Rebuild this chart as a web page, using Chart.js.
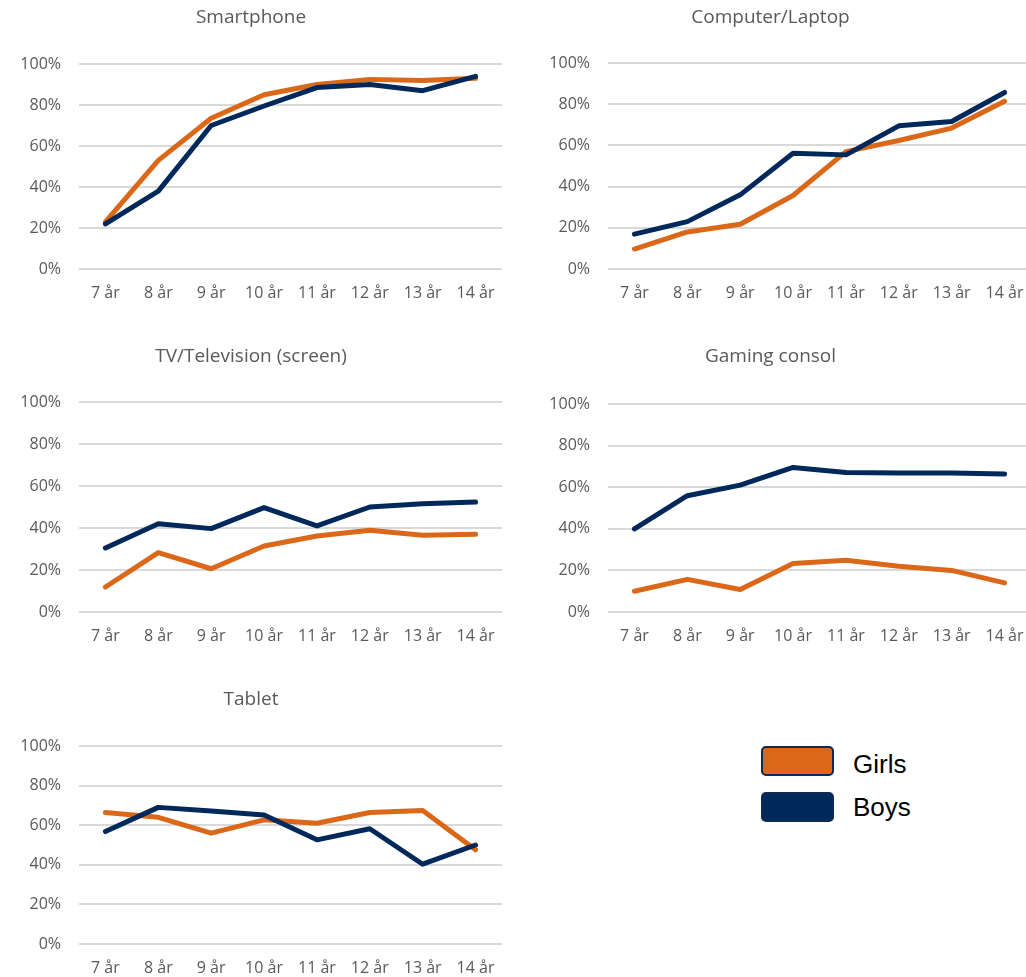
<!DOCTYPE html>
<html>
<head>
<meta charset="utf-8">
<script src="https://cdn.jsdelivr.net/npm/chart.js@4"></script>
<style>
  html, body { margin: 0; padding: 0; background: #fff; overflow: hidden; width: 1026px; height: 977px; }
  .panel { position: absolute; }
  .legend { position: absolute; left: 761px; top: 746px; font-family: "Liberation Sans", Arial, sans-serif; font-size: 26px; color: #000; }
  .legend-row { position: relative; height: 46px; }
  .legend-box { position: absolute; left: 0; width: 69px; height: 26px; border: 2px solid #0c2a52; border-radius: 5px; }
  .legend-label { position: absolute; left: 92px; top: 0; line-height: 30px; }
</style>
</head>
<body>

<div class="legend">
  <div class="legend-row"><div class="legend-box" style="background:#da6818"></div><div class="legend-label" style="top:3px">Girls</div></div>
  <div class="legend-row"><div class="legend-box" style="background:#00285a"></div><div class="legend-label">Boys</div></div>
</div>

<script>
const categories = ['7 år', '8 år', '9 år', '10 år', '11 år', '12 år', '13 år', '14 år'];
const yTickValues = [0, 20, 40, 60, 80, 100];

const smartphoneGirls = [23, 53, 73.5, 85, 90, 92.5, 92, 93];
const smartphoneBoys = [22, 38, 70, 79.5, 88.5, 90, 87, 94];

const computerGirls = [9.7, 18, 21.7, 35.7, 57, 62.4, 68.4, 81.4];
const computerBoys = [16.9, 23, 36, 56.2, 55.4, 69.5, 71.6, 85.7];

const tvGirls = [11.9, 28.3, 20.6, 31.4, 36.2, 38.9, 36.5, 37];
const tvBoys = [30.5, 42, 39.7, 49.7, 41, 50, 51.6, 52.4];

const gamingGirls = [10, 15.7, 10.8, 23.3, 24.9, 22, 20, 14];
const gamingBoys = [40, 55.9, 61, 69.5, 67.1, 66.8, 66.8, 66.3];

const tabletGirls = [66.4, 64, 56, 62.7, 61, 66.4, 67.4, 47.6];
const tabletBoys = [56.8, 69, 67.2, 65.2, 52.6, 58.2, 40.3, 50];

const GIRLS_COLOR = '#da6818';
const BOYS_COLOR = '#00285a';
const TEXT_COLOR = '#595959';
const FONT = '"Open Sans", "Noto Sans", sans-serif';

const panels = [
  { title: 'Smartphone', girls: smartphoneGirls, boys: smartphoneBoys,
    left: 0, top: 0, w: 510, h: 320, titleY: 18, area: { l: 79, t: 64, r: 502, b: 269 } },
  { title: 'Computer/Laptop', girls: computerGirls, boys: computerBoys,
    left: 510, top: 0, w: 530, h: 320, titleY: 18, area: { l: 98, t: 63, r: 521, b: 269 } },
  { title: 'TV/Television (screen)', girls: tvGirls, boys: tvBoys,
    left: 0, top: 340, w: 510, h: 320, titleY: 17, area: { l: 79, t: 62, r: 502, b: 272 } },
  { title: 'Gaming consol', girls: gamingGirls, boys: gamingBoys,
    left: 510, top: 340, w: 530, h: 320, titleY: 17, area: { l: 98, t: 64, r: 521, b: 272 } },
  { title: 'Tablet', girls: tabletGirls, boys: tabletBoys,
    left: 0, top: 680, w: 510, h: 297, titleY: 20, area: { l: 79, t: 66, r: 502, b: 264 } }
];

const TITLE_SIZE = 19;
const TITLE_LINE = TITLE_SIZE * 1.2;
const X_AXIS_H = 30;

panels.forEach(p => {
  const div = document.createElement('div');
  div.className = 'panel';
  div.style.left = p.left + 'px';
  div.style.top = p.top + 'px';
  div.style.width = p.w + 'px';
  div.style.height = p.h + 'px';
  const canvas = document.createElement('canvas');
  div.appendChild(canvas);
  document.body.appendChild(div);

  const titleTop = p.titleY - TITLE_LINE / 2;

  new Chart(canvas.getContext('2d'), {
    type: 'line',
    data: {
      labels: categories,
      datasets: [
        {
          label: 'Girls',
          data: p.girls,
          borderColor: GIRLS_COLOR,
          backgroundColor: GIRLS_COLOR,
          borderWidth: 5,
          pointRadius: 0,
          borderCapStyle: 'round',
          borderJoinStyle: 'round',
          tension: 0,
          order: 2
        },
        {
          label: 'Boys',
          data: p.boys,
          borderColor: BOYS_COLOR,
          backgroundColor: BOYS_COLOR,
          borderWidth: 5,
          pointRadius: 0,
          borderCapStyle: 'round',
          borderJoinStyle: 'round',
          tension: 0,
          order: 1
        }
      ]
    },
    options: {
      responsive: true,
      maintainAspectRatio: false,
      animation: false,
      layout: {
        padding: { top: 0, left: 0, right: p.w - p.area.r, bottom: p.h - p.area.b - X_AXIS_H }
      },
      scales: {
        x: {
          offset: true,
          grid: { display: false, drawTicks: false },
          border: { display: false },
          ticks: {
            color: TEXT_COLOR,
            font: { family: FONT, size: 16 },
            padding: 15,
            maxRotation: 0,
            autoSkip: false
          },
          afterFit: scale => { scale.height = X_AXIS_H; }
        },
        y: {
          min: 0,
          max: 100,
          afterBuildTicks: scale => { scale.ticks = yTickValues.map(v => ({ value: v })); },
          grid: { color: '#d9d9d9', lineWidth: 2, drawTicks: false },
          border: { display: false },
          ticks: {
            color: TEXT_COLOR,
            font: { family: FONT, size: 16 },
            padding: 18,
            callback: v => v + '%'
          },
          afterFit: scale => { scale.width = p.area.l; }
        }
      },
      plugins: {
        legend: { display: false },
        tooltip: { enabled: false },
        title: {
          display: true,
          text: p.title,
          color: TEXT_COLOR,
          font: { family: FONT, size: TITLE_SIZE, weight: 'normal', lineHeight: 1.2 },
          padding: { top: titleTop, bottom: p.area.t - titleTop - TITLE_LINE }
        }
      }
    }
  });
});
</script>
</body>
</html>
